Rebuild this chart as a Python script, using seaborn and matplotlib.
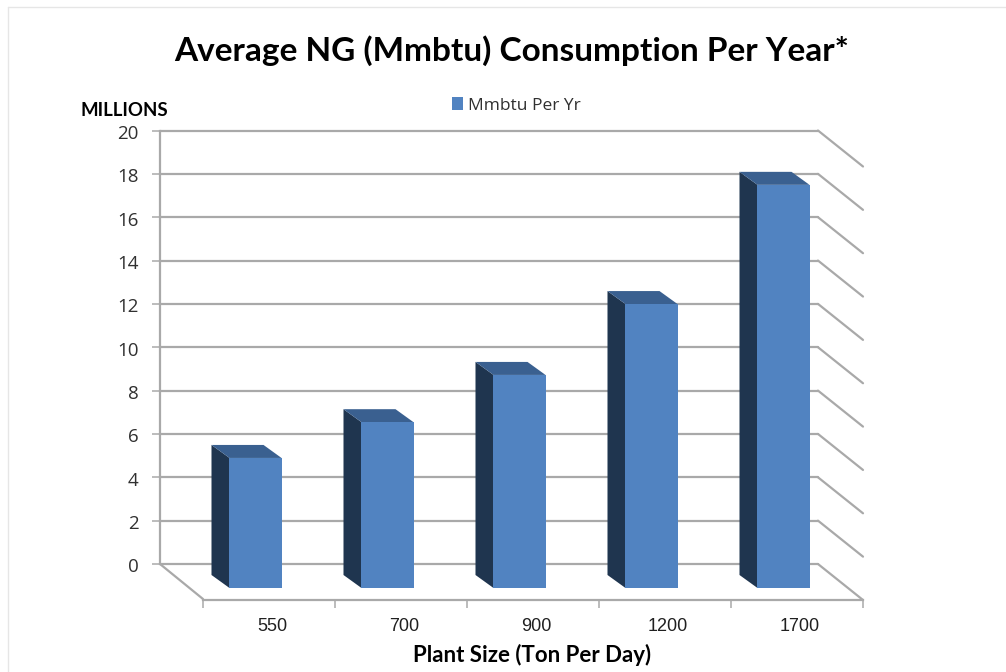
import matplotlib
matplotlib.use("Agg")
import matplotlib.pyplot as plt
from matplotlib.lines import Line2D
from matplotlib.patches import Polygon
from matplotlib.transforms import IdentityTransform, ScaledTranslation
import seaborn as sns

plant_sizes = ["550", "700", "900", "1200", "1700"]
mmbtu_per_yr = [6.0, 7.65, 9.83, 13.1, 18.6]
y_ticks = list(range(0, 21, 2))

W, H = 1006, 672
FRONT = "#5183c1"
SIDE = "#1f354f"
TOP = "#3a6090"
GRID = "#a9a9a9"

sns.set_style("white")
plt.rcParams["font.family"] = ["Open Sans", "DejaVu Sans"]


# axes rectangle given in picture pixels
def rect(left, top, right, bottom):
    return [left / W, 1 - bottom / H, (right - left) / W, (bottom - top) / H]


fig = plt.figure(figsize=(W / 100, H / 100), dpi=100, facecolor="white")

# light frame around the picture
fig.add_artist(Line2D([7.5 / W, 7.5 / W], [0, 1 - 6.5 / H], color="#e6e6e6", lw=1))
fig.add_artist(Line2D([7.5 / W, 1], [1 - 6.5 / H, 1 - 6.5 / H], color="#e6e6e6", lw=1))

# Back wall
wall = fig.add_axes(rect(160, 130.5, 818, 564))
wall.set_xlim(0, 1)
wall.set_ylim(0, 20)
wall.set_xticks([])
wall.set_yticks(y_ticks)
wall.grid(axis="y", color=GRID, lw=1.6)
for line in wall.get_ygridlines():
    line.set_clip_on(False)
for name, spine in wall.spines.items():
    spine.set_visible(name == "left")
    spine.set_color(GRID)
    spine.set_linewidth(1.6)
wall.tick_params(axis="y", left=True, length=6, width=1.1, color=GRID, labelsize=13.5, pad=9.5,
                 labelcolor="#303030")
ylabel_shift = ScaledTranslation(0, -1.5 / 100, fig.dpi_scale_trans)
for label in wall.get_yticklabels():
    label.set_transform(label.get_transform() + ylabel_shift)

# Lines running forward from the wall onto the side wall and the floor
depth = (45, -36)
for v in y_ticks:
    x0, y0 = wall.transData.transform((1, v))
    wall.add_line(Line2D([x0, x0 + depth[0]], [y0, y0 + depth[1]], color=GRID, lw=1.6,
                         transform=IdentityTransform(), clip_on=False))
x0, y0 = wall.transData.transform((0, 0))
wall.add_line(Line2D([x0, x0 + 43], [y0, y0 - 35], color=GRID, lw=1.6,
                     transform=IdentityTransform(), clip_on=False))

# Floor edge with category ticks
floor = fig.add_axes(rect(203, 590, 863, 599.5))
floor.patch.set_visible(False)
floor.set_xlim(-0.5, 4.5)
floor.set_yticks([])
floor.set_xticks([i - 0.5 for i in range(len(plant_sizes) + 1)])
floor.set_xticklabels([])
floor.set_xticks(range(len(plant_sizes)), labels=plant_sizes, minor=True)
for name, spine in floor.spines.items():
    spine.set_visible(name == "bottom")
    spine.set_color(GRID)
    spine.set_linewidth(1.6)
floor.tick_params(axis="x", which="major", bottom=True, length=6, width=1.1, color=GRID)
floor.tick_params(axis="x", which="minor", bottom=False, length=0, pad=13.5, labelsize=13,
                  labelcolor="#202020")
label_shift = ScaledTranslation(3 / 100, 0, fig.dpi_scale_trans)
for label in floor.get_xticklabels(minor=True):
    label.set_fontfamily("Liberation Sans")
    label.set_transform(label.get_transform() + label_shift)

# Bars on the front plane
front = fig.add_axes(rect(189.5, 154.5, 849.5, 588))
front.patch.set_visible(False)
sns.barplot(x=plant_sizes, y=mmbtu_per_yr, color=FRONT, saturation=1, width=0.394, linewidth=0,
            label="Mmbtu Per Yr", legend=False, ax=front, zorder=3)
front.set_xlim(-0.5, 4.5)
front.set_ylim(0, 20)
front.axis("off")

# Side and top faces, pushed back from each front face
back = (-18, 13)
for bar in list(front.patches):
    a = front.transData.transform((bar.get_x(), bar.get_height()))
    b = front.transData.transform((bar.get_x() + bar.get_width(), bar.get_height()))
    c = front.transData.transform((bar.get_x(), 0))
    side = [a, (a[0] + back[0], a[1] + back[1]), (c[0] + back[0], c[1] + back[1]), c]
    top = [a, (a[0] + back[0], a[1] + back[1]), (b[0] + back[0], b[1] + back[1]), b]
    front.add_patch(Polygon(side, closed=True, fc=SIDE, ec="none", clip_on=False,
                            transform=IdentityTransform(), zorder=2))
    front.add_patch(Polygon(top, closed=True, fc=TOP, ec="none", clip_on=False,
                            transform=IdentityTransform(), zorder=2))

# Legend from the bars
handles, labels = front.get_legend_handles_labels()
fig.legend(handles, labels, loc="center left", bbox_to_anchor=(452 / W, 1 - 105.5 / H),
           frameon=False, fontsize=12.5, handlelength=0.64, handleheight=0.75,
           handletextpad=0.27, labelcolor="#303030", borderpad=0, borderaxespad=0)

fig.text(512 / W, 1 - 51 / H, "Average NG (Mmbtu) Consumption Per Year*", ha="center", va="center",
         fontsize=24, fontweight="bold", family="Lato", color="black")
fig.text(124 / W, 1 - 110.5 / H, "MILLIONS", ha="center", va="center", fontsize=13.4,
         fontweight="bold", family="Lato", color="black")
fig.text(532.5 / W, 1 - 655 / H, "Plant Size (Ton Per Day)", ha="center", va="center", fontsize=16,
         fontweight="bold", family="Lato", color="black")

fig.savefig("out.png", dpi=100)
